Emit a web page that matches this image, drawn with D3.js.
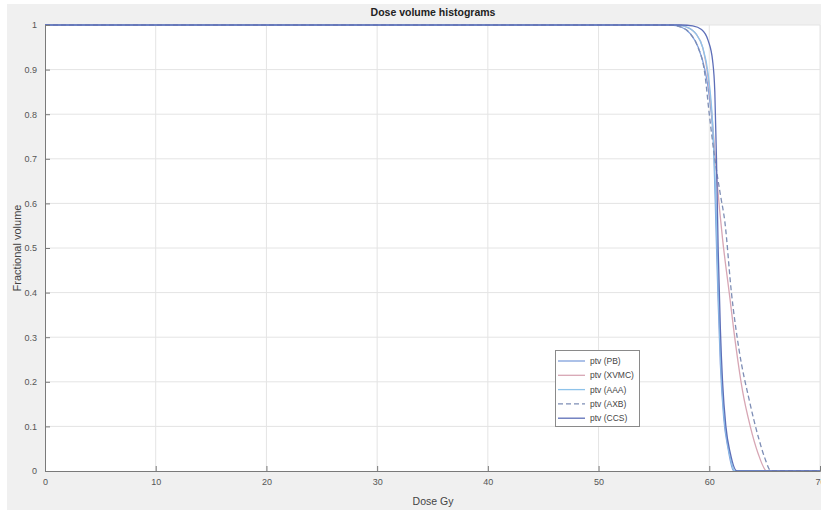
<!DOCTYPE html>
<html><head><meta charset="utf-8">
<script src="https://cdn.jsdelivr.net/npm/d3@7"></script>
<style>body{margin:0;background:#fff}svg{display:block;font-family:"Liberation Sans",Arial,sans-serif}</style>
</head><body><svg id="c" width="821" height="511"></svg>
<script>
const xTicks = [0,10,20,30,40,50,60,70];
const yTicks = [0,0.1,0.2,0.3,0.4,0.5,0.6,0.7,0.8,0.9,1];
const seriesNames = ["ptv (PB)","ptv (XVMC)","ptv (AAA)","ptv (AXB)","ptv (CCS)"];
const pbDose   = [0,56.5,57.5,58.3,59.0,59.6,60.0,60.4,60.6,60.8,61.0,61.3,61.7,62.2,70];
const pbVol    = [1,1,0.995,0.98,0.95,0.9,0.84,0.72,0.55,0.38,0.24,0.12,0.05,0,0];
const xvmcDose = [0,57,58,58.8,59.4,59.9,60.3,60.7,61.2,61.8,62.4,63.0,63.7,64.4,65.2,70];
const xvmcVol  = [1,1,0.995,0.98,0.95,0.88,0.78,0.65,0.52,0.4,0.28,0.18,0.1,0.04,0,0];
const aaaDose  = [0,57,58,58.8,59.4,59.9,60.3,60.6,60.8,61.0,61.25,61.6,62.0,62.3,70];
const aaaVol   = [1,1,0.995,0.98,0.95,0.89,0.78,0.6,0.42,0.27,0.15,0.07,0.02,0,0];
const axbDose  = [0,56.5,57.5,58.3,58.9,59.6,60.0,60.5,61.0,61.4,62.0,62.7,63.6,64.5,65.0,65.6,70];
const axbVol   = [1,1,0.995,0.98,0.955,0.89,0.8,0.7,0.62,0.56,0.4,0.27,0.16,0.07,0.03,0,0];
const ccsDose  = [0,57.5,58.5,59.3,59.9,60.3,60.5,60.65,60.8,61.0,61.2,61.5,61.9,62.5,70];
const ccsVol   = [1,1,0.998,0.99,0.965,0.92,0.85,0.7,0.5,0.32,0.2,0.1,0.04,0,0];

const series = [
  {name:seriesNames[0], dose:pbDose, vol:pbVol, color:"#7f9fdc", dash:null},
  {name:seriesNames[1], dose:xvmcDose, vol:xvmcVol, color:"#d7a6b4", dash:null},
  {name:seriesNames[2], dose:aaaDose, vol:aaaVol, color:"#8ec3ea", dash:null},
  {name:seriesNames[3], dose:axbDose, vol:axbVol, color:"#7d8db5", dash:"5,3"},
  {name:seriesNames[4], dose:ccsDose, vol:ccsVol, color:"#5d6eb8", dash:null}
];

const svg = d3.select("#c");
const L=45, T=25, R=820, B=471;
svg.append("rect").attr("x",7).attr("y",4).attr("width",814).attr("height",506).attr("fill","#f0f0f0");
svg.append("rect").attr("x",L).attr("y",T).attr("width",R-L).attr("height",B-T).attr("fill","#fff");

const x = d3.scaleLinear().domain([0,70]).range([L,R]);
const y = d3.scaleLinear().domain([0,1]).range([B,T]);

// grid
const g = svg.append("g");
g.selectAll(".gx").data(xTicks.slice(1)).enter().append("line")
  .attr("x1",d=>x(d)).attr("x2",d=>x(d)).attr("y1",T).attr("y2",B)
  .attr("stroke","#e4e4e4").attr("stroke-width",1);
g.selectAll(".gy").data(yTicks.slice(1)).enter().append("line")
  .attr("x1",L).attr("x2",R).attr("y1",d=>y(d)).attr("y2",d=>y(d))
  .attr("stroke","#e4e4e4").attr("stroke-width",1);

// curves
const line = d3.line().x(d=>x(d[0])).y(d=>y(d[1])).curve(d3.curveMonotoneX);
series.forEach(s=>{
  const pts = s.dose.map((d,i)=>[d,s.vol[i]]);
  svg.append("path").attr("d",line(pts)).attr("fill","none")
    .attr("stroke",s.color).attr("stroke-width",1.3)
    .attr("stroke-dasharray",s.dash);
});

// axes
const xAxis = d3.axisBottom(x).tickValues(xTicks).tickSize(-5).tickPadding(8).tickFormat(d3.format("d"));
const yAxis = d3.axisLeft(y).tickValues(yTicks).tickSize(-5).tickPadding(8).tickFormat(d=>d===0||d===1?String(d):d3.format(".1f")(d));
const gx = svg.append("g").attr("transform",`translate(0,${B})`).call(xAxis);
const gy = svg.append("g").attr("transform",`translate(${L},0)`).call(yAxis);
[gx,gy].forEach(a=>{
  a.select(".domain").attr("stroke","#7a7a7a");
  a.selectAll(".tick line").attr("stroke","#7a7a7a");
  a.selectAll("text").attr("fill","#555").attr("font-size","9px").attr("font-family","Liberation Sans, Arial, sans-serif");
});

// title and labels
svg.append("text").attr("x",433).attr("y",16).attr("text-anchor","middle")
  .attr("font-size","10.5px").attr("font-weight","bold").attr("fill","#222").text("Dose volume histograms");
svg.append("text").attr("x",433).attr("y",505).attr("text-anchor","middle")
  .attr("font-size","10.5px").attr("fill","#444").text("Dose Gy");
svg.append("text").attr("transform","translate(21,248) rotate(-90)").attr("text-anchor","middle")
  .attr("font-size","11px").attr("fill","#444").text("Fractional volume");

// legend
const lg = svg.append("g");
lg.append("rect").attr("x",555.5).attr("y",350.5).attr("width",84).attr("height",76)
  .attr("fill","#fff").attr("stroke","#8a8a8a");
series.forEach((s,i)=>{
  const yy = 361 + i*14.3;
  lg.append("line").attr("x1",558).attr("x2",585).attr("y1",yy).attr("y2",yy)
    .attr("stroke",s.color).attr("stroke-width",1.3).attr("stroke-dasharray",s.dash);
  lg.append("text").attr("x",590).attr("y",yy+3).attr("font-size","8.5px").attr("fill","#444").text(s.name);
});
</script></body></html>
